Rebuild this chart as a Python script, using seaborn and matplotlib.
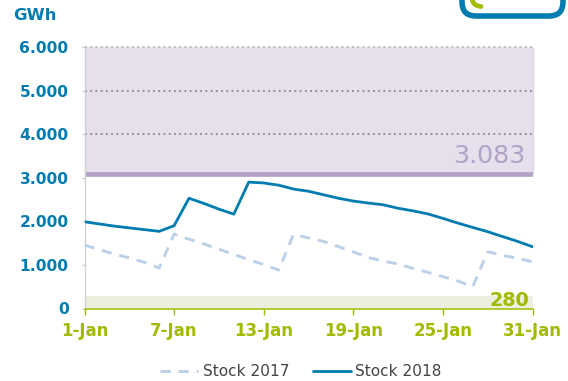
import matplotlib
matplotlib.use("Agg")
import matplotlib.pyplot as plt
from matplotlib.patches import FancyBboxPatch, PathPatch
from matplotlib.path import Path
from matplotlib.transforms import Affine2D
import pandas as pd
import seaborn as sns

days = list(range(1, 32))
stock_2017 = [1456, 1350, 1250, 1160, 1060, 930, 1708, 1590, 1480, 1360, 1240, 1120, 1010, 880,
              1700, 1620, 1540, 1420, 1300, 1170, 1090, 1020, 920, 830, 730, 630, 500,
              1302, 1220, 1150, 1073]
stock_2018 = [1990, 1940, 1890, 1850, 1810, 1770, 1900, 2530, 2410, 2280, 2165, 2900, 2880, 2830,
              2740, 2690, 2610, 2530, 2465, 2420, 2380, 2300, 2240, 2170, 2068, 1960, 1860,
              1762, 1650, 1540, 1417]
y_ticks = [0, 1000, 2000, 3000, 4000, 5000, 6000]
y_labels = ["0", "1.000", "2.000", "3.000", "4.000", "5.000", "6.000"]
x_ticks = [1, 7, 13, 19, 25, 31]
x_labels = ["1-Jan", "7-Jan", "13-Jan", "19-Jan", "25-Jan", "31-Jan"]
upper_limit = 3083
lower_limit = 280
y_top = 6000

BLUE = "#007cb0"
LIGHT = "#bcd0e8"
GREEN = "#a2ba00"
PURPLE = "#b3a2c8"

sns.set_theme(style="white")
plt.rcParams["font.family"] = "DejaVu Sans"

W, H = 568, 381
fig = plt.figure(figsize=(W / 100, H / 100), dpi=100)
ax = fig.add_axes([84.5 / W, 1 - 308.5 / H, 448 / W, 261.5 / H])

ax.axhspan(upper_limit, y_top, color="#e5e0ec", lw=0, zorder=0)
ax.axhspan(0, lower_limit, color="#ebefde", lw=0, zorder=0)
ax.axhline(upper_limit, color=PURPLE, lw=3.4, zorder=2, solid_capstyle="butt")
for t, c in [(4000, "#8a8490"), (5000, "#8a8490"), (6000, "#b4b4b4")]:
    ax.axhline(t, color=c, lw=1.3, ls=(0, (1, 1.9)), zorder=1, clip_on=False)
ax.vlines(31, upper_limit, y_top, color="#d8d8dc", lw=1, zorder=1, clip_on=False)

df = pd.DataFrame({"day": days, "Stock 2017": stock_2017, "Stock 2018": stock_2018})
sns.lineplot(data=df, x="day", y="Stock 2017", ax=ax, color=LIGHT, lw=2.1,
             ls=(0, (3.5, 2.7)), label="Stock 2017", zorder=3)
sns.lineplot(data=df, x="day", y="Stock 2018", ax=ax, color=BLUE, lw=2.0,
             label="Stock 2018", zorder=4)

ax.set_xlim(1, 31)
ax.set_ylim(0, y_top)
ax.set_xlabel("")
ax.set_ylabel("")
ax.set_xticks(x_ticks, x_labels)
ax.set_yticks(y_ticks, y_labels)
ax.tick_params(axis="x", bottom=True, length=4, width=1, color=GREEN, labelcolor=GREEN,
               labelsize=12, pad=6)
ax.tick_params(axis="y", left=True, length=2, width=0.8, color="#c8c8c8", labelcolor=BLUE,
               labelsize=11.2, pad=9.5)
for lab in ax.get_xticklabels() + ax.get_yticklabels():
    lab.set_fontweight("bold")
ax.spines["top"].set_visible(False)
ax.spines["right"].set_visible(False)
ax.spines["left"].set_color("#d2d2d6")
ax.spines["left"].set_linewidth(1)
ax.spines["bottom"].set_color(GREEN)
ax.spines["bottom"].set_linewidth(1.1)

ax.text(30.5, upper_limit + 150, "3.083", color=PURPLE, fontsize=18.2, ha="right", va="bottom")
ax.text(30.8, lower_limit - 320, "280", color=GREEN, fontsize=13.8, fontweight="bold",
        ha="right", va="bottom")
fig.text(13 / W, 1 - 15 / H, "GWh", color=BLUE, fontsize=11.8, fontweight="bold", va="center")

ax.legend(loc="center", bbox_to_anchor=(301 / W, 1 - 372 / H), bbox_transform=fig.transFigure,
          ncol=2, frameon=False, fontsize=11.1, handlelength=2.45, columnspacing=1.55,
          handletextpad=0.28, borderpad=0, labelcolor="#444444")

# corner badge, cut off by the top edge of the picture (pixel coordinates, y downward)
px = Affine2D().scale(1, -1).translate(0, H)
fig.add_artist(FancyBboxPatch((462, -30), 101, 46, boxstyle="round,pad=0,rounding_size=14",
                              transform=px, fc="white", ec=BLUE, lw=4))
fig.add_artist(PathPatch(Path([(472, -1), (473, 4), (476, 6), (481, 6.5)],
                              [Path.MOVETO, Path.CURVE4, Path.CURVE4, Path.CURVE4]),
                         transform=px, fc="none", ec=GREEN, lw=3.4, capstyle="round"))

fig.savefig("out.png", dpi=100)
